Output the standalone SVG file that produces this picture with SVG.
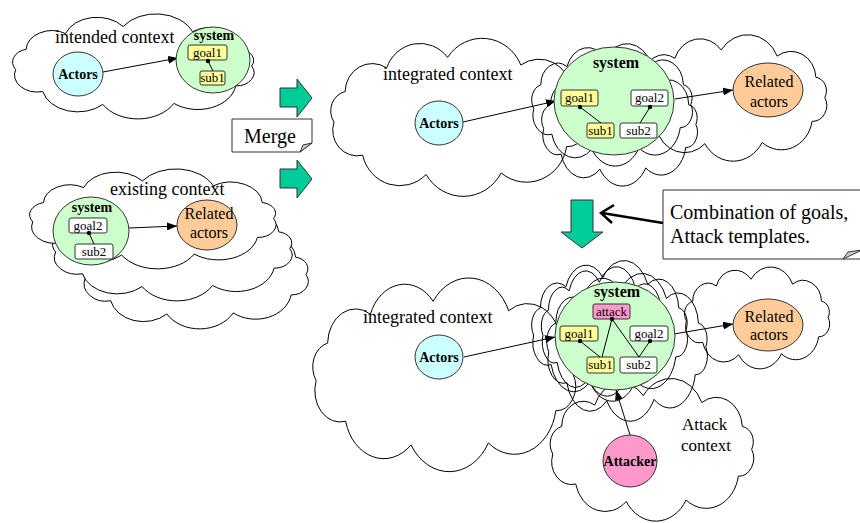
<svg xmlns="http://www.w3.org/2000/svg" xmlns:xlink="http://www.w3.org/1999/xlink" width="860" height="523" viewBox="0 0 860 523">
<style>
.cl{fill:#fff;stroke:#000;stroke-width:1}
.cln{fill:none;stroke:#000;stroke-width:1}
.ln{stroke:#000;stroke-width:1;fill:none}
.ar{stroke:#000;stroke-width:1;fill:none;marker-end:url(#ah)}
.t{font-family:"Liberation Serif","Times New Roman",serif;fill:#000}
.lbl{font-size:18px}
.b{font-weight:bold}
.bx{stroke:#333;stroke-width:1}
.y{fill:#ffff99}
.w{fill:#fff}
.p{fill:#ff99cc}
.g{fill:#ccffcc;stroke:#333;stroke-width:1}
.c{fill:#ccffff;stroke:#333;stroke-width:1}
.o{fill:#ffcc99;stroke:#333;stroke-width:1}
.grn{fill:#00cc99;stroke:#333;stroke-width:1}
.bt{font-size:13px;text-anchor:middle}
.mid{text-anchor:middle}
</style>
<defs>
<path id="cloud" vector-effect="non-scaling-stroke" d="M192,50 A14,14 0 0 1 179.7,71 A30,30 0 0 1 131.5,89.5 A32,32 0 0 1 76.2,90.6 A28,28 0 0 1 29.5,77 A18,18 0 0 1 8.4,53.7 A14,14 0 0 1 16.6,32.2 A20,20 0 0 1 47.2,15.6 A26,26 0 0 1 92,8.2 A31,31 0 0 1 146,13.6 A24,24 0 0 1 183.4,32.2 A12,12 0 0 1 192,50 Z"/>
<marker id="ah" markerUnits="userSpaceOnUse" markerWidth="10" markerHeight="8" refX="10" refY="4" orient="auto">
<path d="M0,0 L10,4 L0,8 Z" fill="#000"/>
</marker>
</defs>

<g id="clouds">
<use xlink:href="#cloud" class="cl" transform="translate(4.9,18.8) scale(1.285,0.945)"/>
<use xlink:href="#cloud" class="cl" transform="translate(75.2,225.9) scale(1.202,0.972)"/>
<use xlink:href="#cloud" class="cl" transform="translate(44.9,201.7) scale(1.275,0.936)"/>
<use xlink:href="#cloud" class="cl" transform="translate(21.8,173.6) scale(1.311,0.899)"/>
<use xlink:href="#cloud" class="cl" transform="translate(322.6,45.7) scale(1.358,1.422)"/>
<use xlink:href="#cloud" class="cl" transform="translate(625.9,40.6) scale(1.036,1.138)"/>
<use xlink:href="#cloud" class="cln" transform="translate(526.6,49.4) scale(0.855,1.101)"/>
<use xlink:href="#cloud" class="cln" transform="translate(536.7,69.4) scale(0.829,1.101)"/>
<use xlink:href="#cloud" class="cl" transform="translate(304.4,287) scale(1.399,1.743)"/>
<use xlink:href="#cloud" class="cl" transform="translate(679.9,271.7) scale(0.772,0.917)"/>
<use xlink:href="#cloud" class="cl" transform="translate(543.7,385.1) scale(1.083,1.284)"/>
<use xlink:href="#cloud" class="cln" transform="translate(526.7,267.1) scale(0.829,1.266)"/>
<use xlink:href="#cloud" class="cln" transform="translate(541.6,280.3) scale(0.855,1.33)"/>
<use xlink:href="#cloud" class="cln" transform="translate(537.3,272.7) scale(0.674,1.165)"/>
</g>

<g id="context-labels">
<text class="t lbl" x="55" y="43">intended context</text>
<text class="t lbl" x="110" y="195">existing context</text>
<text class="t lbl" x="383" y="80">integrated context</text>
<text class="t lbl" x="363" y="323">integrated context</text>
<text class="t" font-size="17" x="682" y="430">Attack</text>
<text class="t" font-size="17" x="681" y="451">context</text>
</g>

<g id="merge-arrows">
<polygon class="grn" points="280,88 297,88 297,79 312,98 297,117 297,107 280,107"/>
<polygon class="grn" points="280,169 297,169 297,160 312,179 297,198 297,188 280,188"/>
<polygon class="grn" points="571,200 593,200 593,232 603,232 582,248 561,232 571,232"/>
</g>

<g id="merge-note">
<path d="M232,119 H312 V143 L300,152 H232 Z" fill="#fff" stroke="#333"/>
<path d="M300,152 L303,145 L312,143 Z" fill="#ccc" stroke="#333"/>
<text class="t" font-size="20" x="244" y="143">Merge</text>
</g>

<g id="combination-note">
<path d="M663,190 H870 V259 H663 Z" fill="#fff" stroke="#333"/>
<path d="M843,259 L848,252 L862,250 Z" fill="#ccc" stroke="#333"/>
<text class="t" font-size="20" x="670" y="219">Combination of goals,</text>
<text class="t" font-size="20" x="670" y="243">Attack templates.</text>
</g>

<g id="connectors">
<line class="ar" x1="103" y1="72" x2="178" y2="58"/>
<line class="ar" x1="129" y1="228" x2="177" y2="226"/>
<line class="ar" x1="463" y1="122" x2="556" y2="101"/>
<line class="ar" x1="675" y1="99" x2="733" y2="90"/>
<line class="ar" x1="464" y1="357" x2="555" y2="337"/>
<line class="ar" x1="674" y1="334" x2="733" y2="324"/>
<line class="ar" x1="630" y1="435" x2="616" y2="390"/>
<line x1="663" y1="223" x2="602" y2="213" stroke="#000" stroke-width="2.5"/>
<polyline points="614,205 601,213 612,223" fill="none" stroke="#000" stroke-width="2.5"/>
</g>

<g id="tl-actors">
<ellipse class="c" cx="78" cy="74" rx="25" ry="22"/>
<text class="t b mid" font-size="14" x="78" y="79">Actors</text>
</g>
<g id="tl-system">
<ellipse class="g" cx="213" cy="60" rx="37" ry="33"/>
<text class="t b mid" font-size="14" x="214" y="40">system</text>
<rect class="bx y" x="188" y="45" width="39" height="15" rx="2"/>
<text class="t bt" x="207.5" y="57">goal1</text>
<rect class="bx y" x="200" y="71" width="25" height="14" rx="2"/>
<text class="t bt" x="212.5" y="82">sub1</text>
<line class="ln" x1="208" y1="61" x2="213" y2="71"/>
<circle cx="208" cy="61" r="2.2"/>
</g>

<g id="ex-system">
<ellipse class="g" cx="91" cy="231" rx="38" ry="34"/>
<text class="t b mid" font-size="14" x="92" y="212">system</text>
<rect class="bx w" x="69" y="218" width="38" height="15" rx="2"/>
<text class="t bt" x="88" y="230">goal2</text>
<rect class="bx w" x="75" y="244" width="38" height="15" rx="2"/>
<text class="t bt" x="94" y="256">sub2</text>
<line class="ln" x1="89" y1="233" x2="94" y2="244"/>
<circle cx="89" cy="233" r="2.2"/>
</g>
<g id="ex-related">
<ellipse class="o" cx="207" cy="225" rx="30" ry="25"/>
<text class="t mid" font-size="16" x="209" y="219">Related</text>
<text class="t mid" font-size="16" x="209" y="238">actors</text>
</g>

<g id="tr-actors">
<ellipse class="c" cx="439" cy="123" rx="24" ry="22"/>
<text class="t b mid" font-size="14" x="439" y="128">Actors</text>
</g>
<g id="tr-system">
<ellipse class="g" cx="614" cy="101" rx="60" ry="54"/>
<text class="t b mid" font-size="16" x="616" y="68">system</text>
<rect class="bx y" x="561" y="90" width="37" height="16" rx="2"/>
<text class="t bt" x="579.5" y="102">goal1</text>
<rect class="bx y" x="587" y="123" width="27" height="15" rx="2"/>
<text class="t bt" x="600.5" y="135">sub1</text>
<rect class="bx w" x="631" y="90" width="37" height="16" rx="2"/>
<text class="t bt" x="649.5" y="102">goal2</text>
<rect class="bx w" x="620" y="123" width="37" height="15" rx="2"/>
<text class="t bt" x="638.5" y="135">sub2</text>
<line class="ln" x1="580" y1="107" x2="601" y2="123"/>
<line class="ln" x1="650" y1="107" x2="640" y2="123"/>
<circle cx="580" cy="107" r="2.2"/>
<circle cx="650" cy="107" r="2.2"/>
</g>
<g id="tr-related">
<ellipse class="o" cx="768" cy="90" rx="35" ry="27"/>
<text class="t mid" font-size="16" x="769" y="87">Related</text>
<text class="t mid" font-size="16" x="769" y="107">actors</text>
</g>

<g id="b-actors">
<ellipse class="c" cx="439" cy="357" rx="24" ry="22"/>
<text class="t b mid" font-size="14" x="439" y="362">Actors</text>
</g>
<g id="b-system">
<ellipse class="g" cx="615" cy="336" rx="60" ry="54"/>
<text class="t b mid" font-size="16" x="617" y="297">system</text>
<rect class="bx p" x="593" y="304" width="37" height="15" rx="2"/>
<text class="t bt" x="611.5" y="316">attack</text>
<rect class="bx y" x="560" y="326" width="38" height="15" rx="2"/>
<text class="t bt" x="579" y="338">goal1</text>
<rect class="bx w" x="630" y="326" width="38" height="15" rx="2"/>
<text class="t bt" x="649" y="338">goal2</text>
<rect class="bx y" x="587" y="357" width="27" height="16" rx="2"/>
<text class="t bt" x="600.5" y="369">sub1</text>
<rect class="bx w" x="620" y="357" width="37" height="16" rx="2"/>
<text class="t bt" x="638.5" y="369">sub2</text>
<line class="ln" x1="612" y1="319" x2="602" y2="357"/>
<line class="ln" x1="612" y1="319" x2="639" y2="357"/>
<line class="ln" x1="580" y1="341" x2="600" y2="357"/>
<line class="ln" x1="650" y1="341" x2="639" y2="357"/>
<circle cx="612" cy="319" r="2.2"/>
<circle cx="580" cy="341" r="2.2"/>
<circle cx="650" cy="341" r="2.2"/>
</g>
<g id="b-related">
<ellipse class="o" cx="768" cy="325" rx="35" ry="26"/>
<text class="t mid" font-size="16" x="769" y="322">Related</text>
<text class="t mid" font-size="16" x="769" y="340">actors</text>
</g>
<g id="b-attacker">
<ellipse class="p" cx="630" cy="461" rx="27" ry="26" stroke="#333"/>
<text class="t b mid" font-size="14" x="630" y="466">Attacker</text>
</g>
</svg>
